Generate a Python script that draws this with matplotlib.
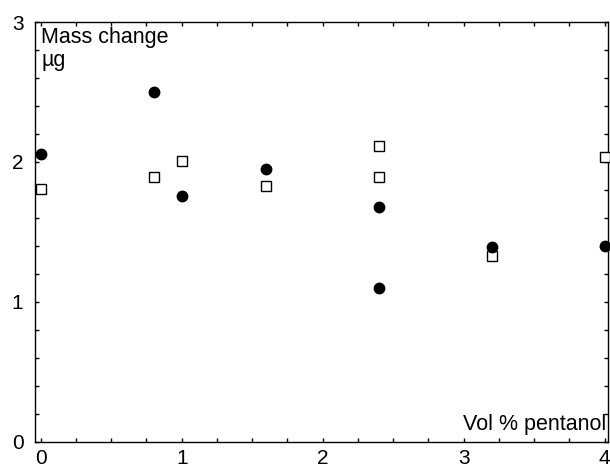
import matplotlib
matplotlib.use('Agg')
import matplotlib.pyplot as plt
from matplotlib.ticker import MultipleLocator

plt.rcParams['font.family'] = ['Liberation Sans', 'DejaVu Sans']

# filled circles
circle_x = [0, 0.8, 1.0, 1.6, 2.4, 2.4, 3.2, 4.0]
circle_y = [2.06, 2.50, 1.76, 1.95, 1.675, 1.10, 1.39, 1.40]

# open squares
square_x = [0, 0.8, 1.0, 1.6, 2.4, 2.4, 3.2, 4.0]
square_y = [1.81, 1.89, 2.01, 1.83, 2.115, 1.89, 1.33, 2.035]

fig = plt.figure(figsize=(6.1, 4.7), dpi=100)
ax = fig.add_axes([0.0566, 0.0602, 0.94, 0.8928])

ax.plot(square_x, square_y, 's', ms=7, mfc='white', mec='black', mew=1, clip_on=False, zorder=3)
ax.plot(circle_x, circle_y, 'o', ms=7.5, color='black', clip_on=False, zorder=4)

ax.set_xlim(-0.044, 4.023)
ax.set_ylim(0, 3)
ax.xaxis.set_major_locator(MultipleLocator(1))
ax.xaxis.set_minor_locator(MultipleLocator(0.25))
ax.yaxis.set_major_locator(MultipleLocator(1))
ax.yaxis.set_minor_locator(MultipleLocator(0.2))
ax.tick_params(which='both', direction='in', top=True, right=True, length=3, width=1, labelsize=15)
ax.tick_params(axis='x', pad=5)
ax.tick_params(axis='y', pad=8)
for s in ax.spines.values():
    s.set_linewidth(1)

ax.text(0.012, 0.988, 'Mass change\nµg', transform=ax.transAxes, ha='left', va='top', fontsize=15.5, linespacing=1.1)
ax.text(0.997, 0.015, 'Vol % pentanol', transform=ax.transAxes, ha='right', va='bottom', fontsize=15.5)

fig.savefig('out.png', dpi=100)
